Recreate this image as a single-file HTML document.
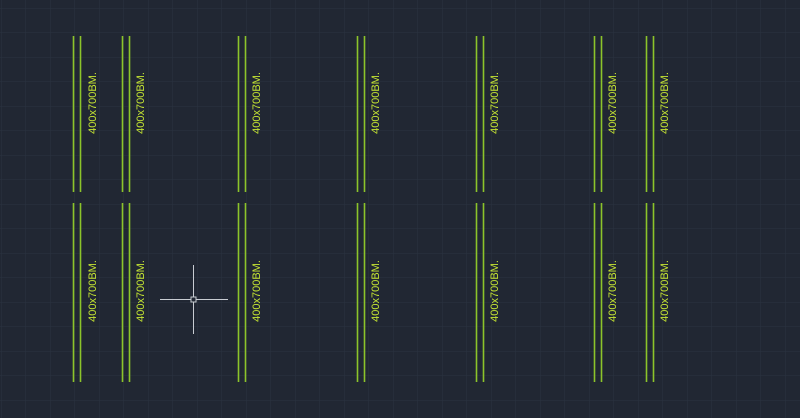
<!DOCTYPE html>
<html><head><style>
html,body{margin:0;padding:0;background:#212733;}
svg{display:block}
text{font-family:"Liberation Sans",sans-serif;font-size:11px;fill:#c6e633;}
</style></head><body>
<svg width="800" height="418" xmlns="http://www.w3.org/2000/svg">
<defs>
<pattern id="g" x="1" y="8" width="24.5" height="24.5" patternUnits="userSpaceOnUse">
<path d="M0 0H24.5M0 0V24.5" stroke="#2b3340" stroke-width="1" fill="none"/>
</pattern>
</defs>
<rect width="800" height="418" fill="#212733"/>
<rect width="800" height="418" fill="url(#g)"/>
<g stroke="#8cc42a" stroke-width="1.6">
<path d="M73.5 36V192M80.5 36V192M122.5 36V192M129.5 36V192M238.5 36V192M245.5 36V192M357.5 36V192M364.5 36V192M476.5 36V192M483.5 36V192M594.5 36V192M601.5 36V192M646.5 36V192M653.5 36V192"/>
<path d="M73.5 203V382M80.5 203V382M122.5 203V382M129.5 203V382M238.5 203V382M245.5 203V382M357.5 203V382M364.5 203V382M476.5 203V382M483.5 203V382M594.5 203V382M601.5 203V382M646.5 203V382M653.5 203V382"/>
</g>
<g text-anchor="middle">
<text transform="translate(96,103) rotate(-90)">400x700BM.</text>
<text transform="translate(144,103) rotate(-90)">400x700BM.</text>
<text transform="translate(260,103) rotate(-90)">400x700BM.</text>
<text transform="translate(379,103) rotate(-90)">400x700BM.</text>
<text transform="translate(498,103) rotate(-90)">400x700BM.</text>
<text transform="translate(616,103) rotate(-90)">400x700BM.</text>
<text transform="translate(668,103) rotate(-90)">400x700BM.</text>
<text transform="translate(96,291) rotate(-90)">400x700BM.</text>
<text transform="translate(144,291) rotate(-90)">400x700BM.</text>
<text transform="translate(260,291) rotate(-90)">400x700BM.</text>
<text transform="translate(379,291) rotate(-90)">400x700BM.</text>
<text transform="translate(498,291) rotate(-90)">400x700BM.</text>
<text transform="translate(616,291) rotate(-90)">400x700BM.</text>
<text transform="translate(668,291) rotate(-90)">400x700BM.</text>
</g>
<g stroke="#c8ccd2" stroke-width="1" fill="none">
<path d="M160 299.5H228M193.5 265V334"/>
<rect x="191" y="297" width="5" height="5" fill="#212733"/>
</g>
</svg>
</body></html>
